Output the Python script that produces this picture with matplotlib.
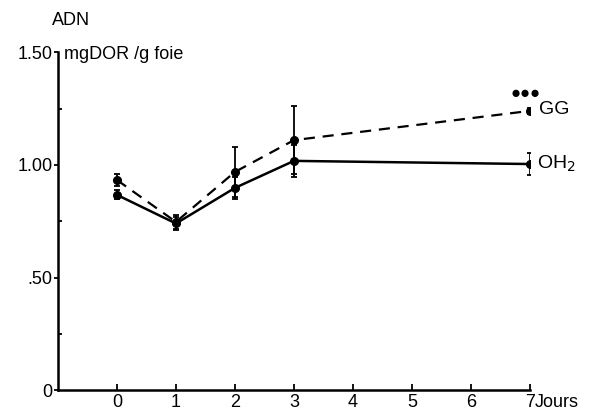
import matplotlib.pyplot as plt
import numpy as np

plt.rcParams['font.family'] = ['Liberation Sans', 'DejaVu Sans']

# Données
jours = [0, 1, 2, 3, 7]
gg = [0.933, 0.747, 0.969, 1.11, 1.24]
gg_err = [0.025, 0.03, 0.11, 0.15, 0.012]
oh2 = [0.867, 0.74, 0.898, 1.018, 1.004]
oh2_err = [0.02, 0.03, 0.05, 0.07, 0.05]

yticks = [0, 0.5, 1.0, 1.5]
ytick_labels = ['0', '.50', '1.00', '1.50']
xticks = [0, 1, 2, 3, 4, 5, 6, 7]

fig = plt.figure(figsize=(5.95, 4.12), dpi=100)
ax = fig.add_axes([0.0975, 0.053, 0.793, 0.82])

ax.errorbar(jours, gg, yerr=gg_err, color='black', linestyle=(0, (5, 3.5)),
            linewidth=1.6, marker='o', markersize=5.5, capsize=2.5,
            elinewidth=1.3, capthick=1.3)
ax.errorbar(jours, oh2, yerr=oh2_err, color='black', linestyle='-',
            linewidth=1.8, marker='o', markersize=5.5, capsize=2.5,
            elinewidth=1.3, capthick=1.3)

ax.set_xlim(-1.0, 7)
ax.set_ylim(0, 1.5)
ax.spines['top'].set_visible(False)
ax.spines['right'].set_visible(False)
ax.spines['left'].set_linewidth(1.8)
ax.spines['bottom'].set_linewidth(1.8)

ax.set_yticks(yticks)
ax.set_yticklabels(ytick_labels, fontsize=13)
ax.set_yticks([0.25, 0.75, 1.25], minor=True)
ax.tick_params(axis='y', which='major', direction='out', length=3, width=1.3, pad=1)
ax.tick_params(axis='y', which='minor', direction='in', length=3, width=1.3)
ax.set_xticks(xticks)
ax.set_xticklabels([str(x) for x in xticks], fontsize=13)
ax.tick_params(axis='x', direction='in', length=4, width=1.3, pad=3)

ax.text(7.08, -0.055, 'Jours', fontsize=13, ha='left', va='center', clip_on=False)
ax.text(7.15, gg[-1] + 0.005, 'GG', fontsize=14, ha='left', va='center')
ax.text(7.12, oh2[-1], 'OH$_2$', fontsize=14, ha='left', va='center')
ax.text(6.92, 1.315, '●●●', fontsize=12, ha='center', va='center')
ax.text(-0.9, 1.49, 'mgDOR /g foie', fontsize=13, ha='left', va='center')
fig.text(0.088, 0.95, 'ADN', fontsize=13, ha='left', va='center')

fig.savefig('out.png', dpi=100)
